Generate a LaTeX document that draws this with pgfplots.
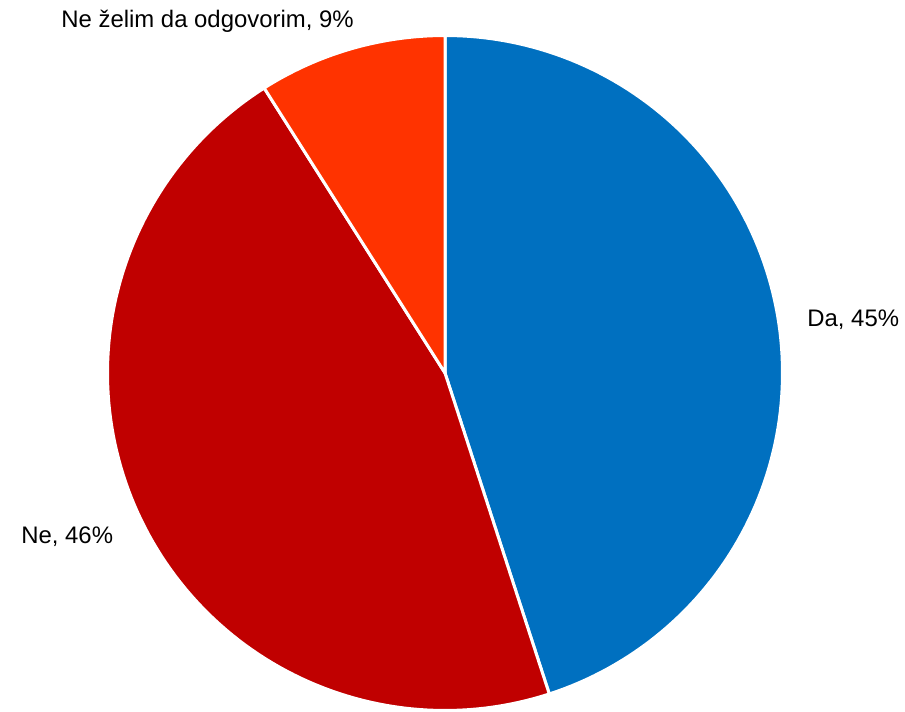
\documentclass[border=0pt]{standalone}
\usepackage{pgfplots}
\pgfplotsset{compat=1.18}
\usepackage{fontspec}
\setmainfont{Liberation Sans}

\definecolor{cDa}{HTML}{0070C0}
\definecolor{cNe}{HTML}{C00000}
\definecolor{cNz}{HTML}{FF3300}

% shares in percent
\def\vDa{45}
\def\vNe{46}
\def\vNz{9}
\pgfmathsetmacro\aA{90}
\pgfmathsetmacro\aB{\aA-3.6*\vDa}
\pgfmathsetmacro\aC{\aB-3.6*\vNe}
\pgfmathsetmacro\aD{\aC-3.6*\vNz}
\def\R{337.5}

\begin{document}
\begin{tikzpicture}
\begin{axis}[
    x=0.5pt, y=0.5pt,
    xmin=-445, xmax=460,
    ymin=-339, ymax=373,
    hide axis, clip=false,
    font=\fontsize{11.95pt}{14pt}\selectfont,
]
\path (axis cs:-445,-339) rectangle (axis cs:460,373);
\addplot[fill=cDa, draw=white, line width=1.5pt, domain=\aA:\aB, samples=120]
  ({\R*cos(x)},{\R*sin(x)}) -- (axis cs:0,0) -- cycle;
\addplot[fill=cNe, draw=white, line width=1.5pt, domain=\aB:\aC, samples=120]
  ({\R*cos(x)},{\R*sin(x)}) -- (axis cs:0,0) -- cycle;
\addplot[fill=cNz, draw=white, line width=1.5pt, domain=\aC:\aD, samples=40]
  ({\R*cos(x)},{\R*sin(x)}) -- (axis cs:0,0) -- cycle;
\node[anchor=base west, inner sep=0pt] at (axis cs:362,46) {Da, 45\%};
\node[anchor=base west, inner sep=0pt] at (axis cs:-424,-171) {Ne, 46\%};
\node[anchor=base west, inner sep=0pt] at (axis cs:-384,345) {Ne želim da odgovorim, 9\%};
\end{axis}
\end{tikzpicture}
\end{document}
